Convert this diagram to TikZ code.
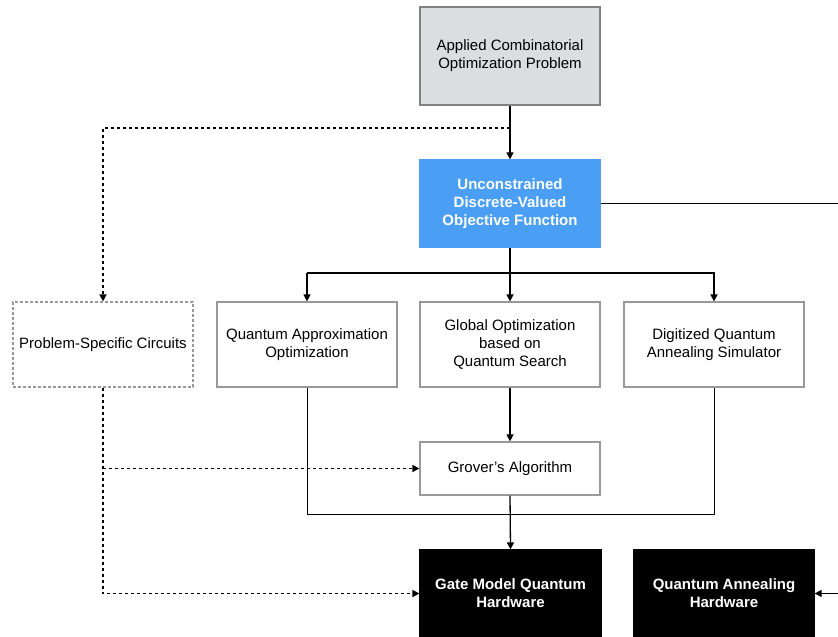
\documentclass[tikz,border=0pt]{standalone}
\usepackage{fontspec}
\setmainfont{Liberation Sans}
\usetikzlibrary{arrows.meta}
\definecolor{bluebox}{HTML}{4A9FF5}
\definecolor{grayfill}{HTML}{DCDDDF}
\definecolor{grayline}{HTML}{999999}
\begin{document}
\begin{tikzpicture}[x=1pt,y=-1pt,
  font=\fontsize{15}{18}\selectfont,
  box/.style={draw=grayline,line width=1.2pt,minimum width=180pt,minimum height=85pt,align=center,inner sep=2pt},
  conn/.style={line width=1.3pt,draw=black},
  thin conn/.style={line width=1pt,draw=black},
  arr/.style={conn,-{Triangle[length=7pt,width=7pt]}},
  dots/.style={line width=1.5pt,dash pattern=on 3pt off 3pt}]
\useasboundingbox (0,0) rectangle (838,637);
\node[box,fill=grayfill,minimum height=98pt,draw=gray] (app) at (510,56) {Applied Combinatorial\\Optimization Problem};
\node[box,fill=bluebox,draw=bluebox,minimum height=87pt,text=white,font=\fontsize{15}{18}\selectfont\bfseries] (obj) at (510,203.5) {Unconstrained\\Discrete-Valued\\Objective Function};
\node[box,dash pattern=on 3pt off 2pt] (psc) at (103,344.5) {Problem-Specific Circuits};
\node[box] (qao) at (307,344.5) {Quantum Approximation\\Optimization};
\node[box] (gos) at (510,344.5) {Global Optimization\\based on\\Quantum Search};
\node[box] (dqa) at (714,344.5) {Digitized Quantum\\Annealing Simulator};
\node[box,minimum height=53pt] (grv) at (510,468.5) {Grover’s Algorithm};
\node[box,fill=black,draw=black,minimum width=181pt,minimum height=87pt,text=white,font=\fontsize{15}{18}\selectfont\bfseries] (gate) at (510.5,593.5) {Gate Model Quantum\\Hardware};
\node[box,fill=black,draw=black,minimum height=87pt,text=white,font=\fontsize{15}{18}\selectfont\bfseries] (qah) at (724,593.5) {Quantum Annealing\\Hardware};
\coordinate (j1) at (510,128);
\coordinate (j1l) at (103,128);
\coordinate (j2) at (510,273);
\coordinate (j2l) at (307,273);
\coordinate (j2r) at (714,273);
\coordinate (edgeA) at (838,203.5);
\coordinate (edgeB) at (838,593.5);
\coordinate (bl) at (307,514);
\coordinate (br) at (714,514);
\coordinate (pl) at (103,593.5);
\coordinate (pm) at (103,468.5);
% main flow
\draw[arr] (app.south) -- (obj.north);
\draw[conn] (obj.east) -- (edgeA);
\draw[conn] (obj.south) -- (j2);
\draw[arr] (j2l) -- (j2) -- (j2r) -- (dqa.north);
\draw[arr] (j2l) -- (qao.north);
\draw[arr] (j2) -- (gos.north);
\draw[arr] (gos.south) -- (grv.north);
\draw[thin conn] (qao.south) -- (bl) -- (br) -- (dqa.south);
\draw[arr] (grv.south) -- (gate.north);
\draw[arr] (edgeB) -- (qah.east);
% dotted
\draw[dots,-{Triangle[length=7pt,width=7pt]}] (j1) -- (j1l) -- (psc.north);
\draw[dots,-{Triangle[length=7pt,width=7pt]}] (psc.south) -- (pl) -- (gate.west);
\draw[dots,-{Triangle[length=7pt,width=7pt]}] (pm) -- (grv.west);
\end{tikzpicture}
\end{document}
